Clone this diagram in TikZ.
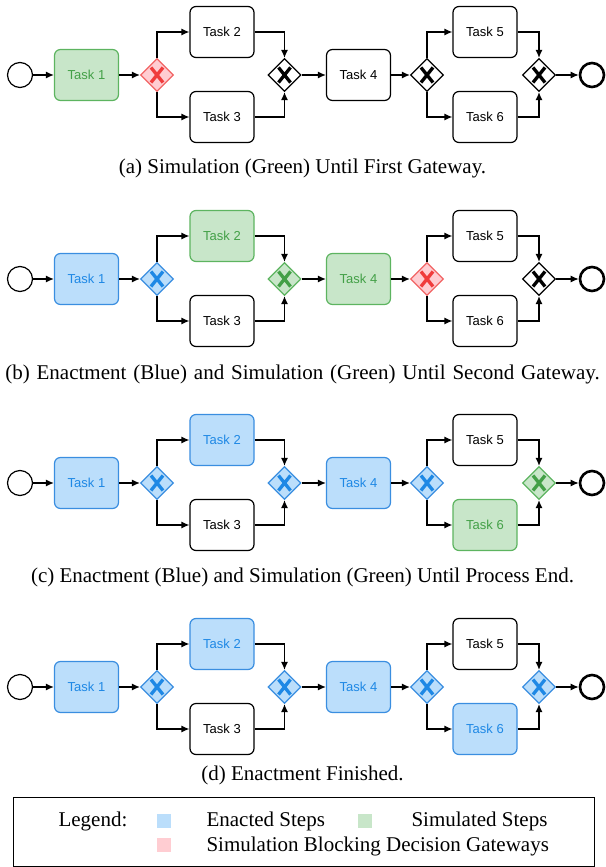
\documentclass[tikz,border=0pt]{standalone}
\usepackage{fontspec}
\setmainfont{Liberation Serif}
\setsansfont{Liberation Sans}
\usetikzlibrary{shapes.geometric,arrows.meta}

\definecolor{enactfill}{HTML}{BBDEFB}
\definecolor{enactline}{HTML}{3A8EE0}
\definecolor{enacttext}{HTML}{1E88E5}
\definecolor{simfill}{HTML}{C8E6C9}
\definecolor{simline}{HTML}{5DB460}
\definecolor{simtext}{HTML}{43A047}
\definecolor{blockfill}{HTML}{FFCDD2}
\definecolor{blockline}{HTML}{F26464}
\definecolor{blocktext}{HTML}{F03C3C}
\colorlet{plainfill}{white}
\colorlet{plainline}{black}
\colorlet{plaintext}{black}

\tikzset{
  task/.style={rectangle, rounded corners=6pt, line width=1.2pt, draw=#1line,
    fill=#1fill, text=#1text, minimum width=64pt, minimum height=51pt,
    font=\sffamily\fontsize{13}{15}\selectfont},
  task/.default=plain,
  gw/.style={diamond, line width=1.2pt, draw=#1line, fill=#1fill,
    minimum size=33pt, inner sep=0pt,
    path picture={\draw[line width=3.3pt, #1text]
      (path picture bounding box.center) ++(-6pt,-7.5pt) -- ++(12pt,15pt)
      (path picture bounding box.center) ++(-6pt,7.5pt) -- ++(12pt,-15pt);}},
  gw/.default=plain,
  event/.style={circle, draw, line width=1.2pt, minimum size=25pt, inner sep=0pt},
  flow/.style={line width=1.2pt, -{Latex[length=8pt,width=7pt]}},
  caption/.style={font=\fontsize{21}{24}\selectfont},
  legtext/.style={anchor=west, font=\fontsize{21}{24}\selectfont},
  legbox/.style={minimum size=14pt, inner sep=0pt},
  allplain/.style={r1/.style={task}, r2/.style={task}, r3/.style={task},
    r4/.style={task}, r5/.style={task}, r6/.style={task},
    g1/.style={gw}, g2/.style={gw}, g3/.style={gw}, g4/.style={gw}}
}

% one process row: #1 name prefix, #2 vertical shift
\newcommand{\bpmnrow}[2]{%
  \begin{scope}[yshift=#2]
    \node[event] (#1start) at (20,75) {};
    \node[r1] (#1t1) at (86.5,75) {Task 1};
    \node[g1] (#1g1) at (157,75) {};
    \node[r2] (#1t2) at (222,32) {Task 2};
    \node[r3] (#1t3) at (222,117) {Task 3};
    \node[g2] (#1g2) at (284.5,75) {};
    \node[r4] (#1t4) at (358.5,75) {Task 4};
    \node[g3] (#1g3) at (427,75) {};
    \node[r5] (#1t5) at (485,32) {Task 5};
    \node[r6] (#1t6) at (485,117) {Task 6};
    \node[g4] (#1g4) at (539,75) {};
    \node[event, line width=2.6pt, minimum size=24pt] (#1end) at (592,75) {};

    \draw[flow] (#1start) -- (#1t1);
    \draw[flow] (#1t1) -- (#1g1);
    \draw[flow] (#1g1.north) |- (#1t2.west);
    \draw[flow] (#1g1.south) |- (#1t3.west);
    \draw[flow] (#1t2.east) -| (#1g2.north);
    \draw[flow] (#1t3.east) -| (#1g2.south);
    \draw[flow] (#1g2) -- (#1t4);
    \draw[flow] (#1t4) -- (#1g3);
    \draw[flow] (#1g3.north) |- (#1t5.west);
    \draw[flow] (#1g3.south) |- (#1t6.west);
    \draw[flow] (#1t5.east) -| (#1g4.north);
    \draw[flow] (#1t6.east) -| (#1g4.south);
    \draw[flow] (#1g4) -- (#1end);
  \end{scope}}

\begin{document}
\begin{tikzpicture}[x=1pt, y=-1pt]
  \useasboundingbox (0,0) rectangle (605,867);

  % (a) simulation up to the first gateway
  \tikzset{allplain, r1/.style={task=sim}, g1/.style={gw=block}}
  \bpmnrow{a}{0pt}
  \node[caption] (capa) at (302.5,168) {(a) Simulation (Green) Until First Gateway.};

  % (b)
  \tikzset{allplain, r1/.style={task=enact}, g1/.style={gw=enact},
    r2/.style={task=sim}, g2/.style={gw=sim}, r4/.style={task=sim},
    g3/.style={gw=block}}
  \bpmnrow{b}{-204pt}
  \node[caption, inner sep=0pt] (capb) at (302.5,374) {\spaceskip=6.9pt (b) Enactment (Blue) and Simulation (Green) Until Second Gateway.};

  % (c)
  \tikzset{allplain, r1/.style={task=enact}, g1/.style={gw=enact},
    r2/.style={task=enact}, g2/.style={gw=enact}, r4/.style={task=enact},
    g3/.style={gw=enact}, r6/.style={task=sim}, g4/.style={gw=sim}}
  \bpmnrow{c}{-408pt}
  \node[caption] (capc) at (302.5,577) {(c) Enactment (Blue) and Simulation (Green) Until Process End.};

  % (d) everything enacted
  \tikzset{allplain, r1/.style={task=enact}, g1/.style={gw=enact},
    r2/.style={task=enact}, g2/.style={gw=enact}, r4/.style={task=enact},
    g3/.style={gw=enact}, r6/.style={task=enact}, g4/.style={gw=enact}}
  \bpmnrow{d}{-612pt}
  \node[caption] (capd) at (302.5,775) {(d) Enactment Finished.};

  % legend
  \draw[line width=1pt] (13,797) rectangle (594,866);
  \node[legtext] (legtitle) at (55,821) {Legend:};
  \node[legbox, fill=enactfill] (legenact) at (164,821) {};
  \node[legtext] (legenacttxt) at (203,821) {Enacted Steps};
  \node[legbox, fill=simfill] (legsim) at (365,821) {};
  \node[legtext] (legsimtxt) at (408,821) {Simulated Steps};
  \node[legbox, fill=blockfill] (legblock) at (164,845) {};
  \node[legtext] (legblocktxt) at (203,846) {Simulation Blocking Decision Gateways};
\end{tikzpicture}
\end{document}
